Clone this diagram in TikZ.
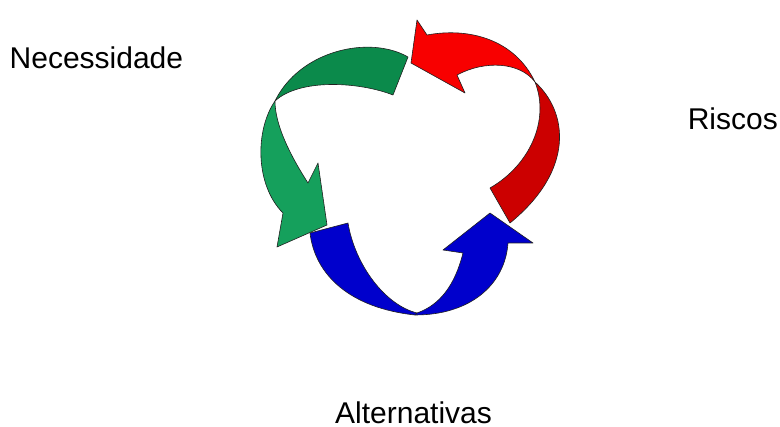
\documentclass[tikz,border=0pt]{standalone}
\usepackage{fontspec}
\setmainfont{Liberation Sans}
\usepackage{tikz}
\definecolor{redtop}{HTML}{F80000}
\definecolor{redlow}{HTML}{CC0000}
\definecolor{greentop}{HTML}{0B8A4B}
\definecolor{greenlow}{HTML}{15A05C}
\definecolor{bluepart}{HTML}{0000CC}
\definecolor{edge}{HTML}{202020}
\tikzset{
  band/.style   = {draw=edge, line width=0.6pt, line join=round},
  lbl/.style    = {inner sep=0pt, anchor=base west,
                   font=\fontsize{30}{36}\selectfont},
}

\begin{document}
\begin{tikzpicture}[x=1pt, y=-1pt]
    \useasboundingbox (0,0) rectangle (780,427);

    % green arrow
    \path[band, fill=greentop] (408,57) -- (393,95)
        .. controls (360,82) and (300,78) .. (275,101)
        .. controls (300,50) and (370,35) .. (408,57) -- cycle;
    \path[band, fill=greenlow] (275,101)
        .. controls (255,130) and (255,185) .. (283,213)
        -- (277,247) -- (327,225) -- (318,163) -- (308,183)
        .. controls (290,155) and (275,125) .. (275,101) -- cycle;

    % red arrow
    \path[band, fill=redtop] (411,63) -- (417,20) -- (427,35)
        .. controls (470,27) and (515,40) .. (535,82)
        .. controls (520,62) and (485,60) .. (457,75)
        -- (465,93) -- cycle;
    \path[band, fill=redlow] (535,82)
        .. controls (568,112) and (575,170) .. (510,223)
        -- (490,188)
        .. controls (530,165) and (550,120) .. (535,82) -- cycle;

    % blue arrow
    \path[band, fill=bluepart] (310,233) -- (348,223)
        .. controls (355,265) and (385,305) .. (417,313)
        -- (415,315)
        .. controls (350,308) and (315,275) .. (310,233) -- cycle;
    \path[band, fill=bluepart] (415,315)
        .. controls (470,315) and (505,285) .. (508,243)
        -- (533,243) -- (490,213) -- (443,250) -- (463,253)
        .. controls (455,285) and (440,305) .. (417,313) -- cycle;

    \node[lbl] (nec) at (9.5,68.3)  {Necessidade};
    \node[lbl] (ris) at (687.6,130) {Riscos};
    \node[lbl] (alt) at (335,423.5) {Alternativas};
\end{tikzpicture}
\end{document}
